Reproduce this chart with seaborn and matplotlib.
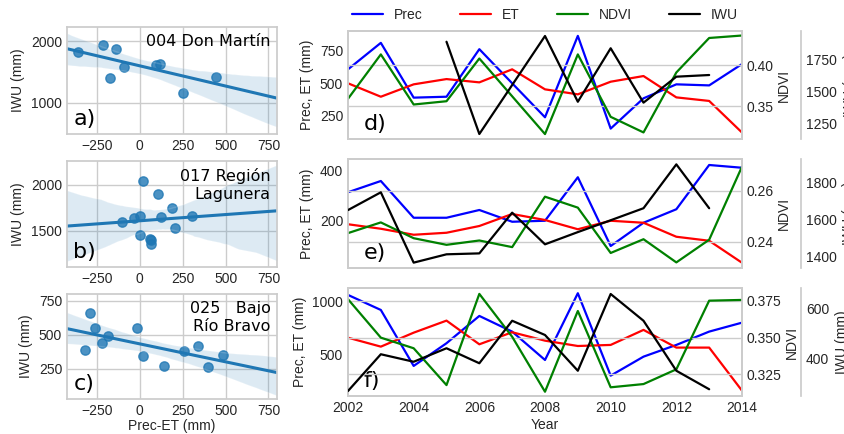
import numpy as np
import matplotlib
matplotlib.use("Agg")
import matplotlib.pyplot as plt
import seaborn as sns

# ---- scatter panels: Prec-ET (mm) vs IWU (mm) per irrigation district ----
a_diff = [-363, -215, -138, -177, -91, 95, 119, 251, 445]
a_iwu = [1826, 1934, 1880, 1405, 1590, 1613, 1629, 1164, 1416]

b_diff = [-104, -37, -2, 21, 2, 60, 64, 66, 107, 124, 188, 204, 305]
b_iwu = [1597, 1640, 1658, 2036, 1461, 1418, 1400, 1364, 1895, 1648, 1748, 1537, 1662]

c_diff = [-293, -322, -260, -219, -188, -17, 18, 138, 260, 338, 396, 484]
c_iwu = [657, 386, 548, 439, 493, 548, 344, 271, 378, 415, 264, 349]

district_names = ["004 Don Martín", "017 Región\nLagunera", "025   Bajo\nRío Bravo"]

# ---- time series panels ----
years = list(range(2002, 2015))

d_prec = [604, 805, 389, 396, 757, 498, 240, 858, 154, 384, 490, 482, 644]
d_et = [498, 396, 490, 530, 505, 604, 452, 414, 510, 553, 391, 364, 124]
d_ndvi = [0.359, 0.413, 0.352, 0.356, 0.408, 0.362, 0.316, 0.413, 0.337, 0.318, 0.391, 0.433, 0.436]
d_iwu_years = list(range(2005, 2014))
d_iwu = [1885, 1164, 1547, 1930, 1416, 1834, 1409, 1612, 1625]

e_prec = [315, 360, 213, 213, 244, 197, 201, 375, 100, 193, 247, 424, 413]
e_et = [187, 169, 145, 153, 180, 228, 204, 167, 201, 193, 137, 121, 33]
e_ndvi = [0.2433, 0.2475, 0.2413, 0.2387, 0.2404, 0.2378, 0.2576, 0.2533, 0.2355, 0.2409, 0.2318, 0.2407, 0.2694]
e_iwu_years = list(range(2002, 2014))
e_iwu = [1652, 1748, 1368, 1413, 1418, 1638, 1467, 1533, 1597, 1662, 1899, 1662]

f_prec = [1063, 922, 397, 610, 866, 719, 453, 1079, 306, 484, 594, 719, 803]
f_et = [662, 578, 709, 822, 600, 713, 634, 584, 594, 735, 569, 569, 165]
f_ndvi = [0.376, 0.3499, 0.3427, 0.3177, 0.3796, 0.3505, 0.3132, 0.368, 0.3162, 0.3184, 0.3284, 0.375, 0.3755]
f_iwu_years = list(range(2002, 2014))
f_iwu = [269, 416, 386, 440, 380, 550, 493, 350, 657, 550, 350, 276]

sns.set_theme(style="whitegrid")
plt.rcParams["font.family"] = "sans-serif"
plt.rcParams["font.sans-serif"] = ["Liberation Sans"]
plt.rcParams["font.size"] = 10
plt.rcParams["axes.labelsize"] = 10
plt.rcParams["xtick.labelsize"] = 10
plt.rcParams["ytick.labelsize"] = 10
plt.rcParams["xtick.major.size"] = 0
plt.rcParams["ytick.major.size"] = 0
plt.rcParams["xtick.major.pad"] = 3.5
plt.rcParams["ytick.major.pad"] = 3.5
plt.rcParams["axes.labelpad"] = 4

W, H = 844, 434
fig = plt.figure(figsize=(W / 100, H / 100), dpi=100)


def box(x0, y0, x1, y1):
    # pixel box -> figure fraction rect
    return [x0 / W, 1 - y1 / H, (x1 - x0) / W, (y1 - y0) / H]


# ---- left column: regressions ----
scatter_data = [(a_diff, a_iwu), (b_diff, b_iwu), (c_diff, c_iwu)]
left_boxes = [box(67, 27, 277, 134), box(67, 161, 277, 267), box(67, 294, 277, 399)]
left_ylims = [(487, 2236), (1112, 2254), (26, 799)]
left_yticks = [[1000, 2000], [1500, 2000], [250, 500, 750]]
letters_left = ["a)", "b)", "c)"]

for i, ((xs, ys), rect) in enumerate(zip(scatter_data, left_boxes)):
    ax = fig.add_axes(rect)
    ax.set_xlim(-425, 800)
    ax.set_ylim(*left_ylims[i])
    sns.regplot(x=xs, y=ys, ax=ax, truncate=False, color="#1f77b4",
                scatter_kws={"s": 45}, line_kws={"lw": 2.2})
    ax.set_xlim(-425, 800)
    ax.set_ylim(*left_ylims[i])
    ax.set_xticks([-250, 0, 250, 500, 750])
    ax.set_yticks(left_yticks[i])
    ax.set_ylabel("IWU (mm)")
    ax.text(0.97, 0.93, district_names[i], transform=ax.transAxes, ha="right",
            va="top", fontsize=11.5, family="DejaVu Sans", linespacing=1.25,
            color="black")
    ax.text(0.03, 0.05, letters_left[i], transform=ax.transAxes, ha="left",
            va="bottom", fontsize=16, family="DejaVu Sans", color="black")
    if i == 2:
        ax.set_xlabel("Prec-ET (mm)", labelpad=1)
    else:
        ax.set_xlabel("")

# ---- right column: time series ----
series = [
    (d_prec, d_et, d_ndvi, d_iwu_years, d_iwu),
    (e_prec, e_et, e_ndvi, e_iwu_years, e_iwu),
    (f_prec, f_et, f_ndvi, f_iwu_years, f_iwu),
]
right_boxes = [box(348, 31, 742, 139), box(348, 159, 742, 268), box(348, 288, 742, 396)]
pe_ylims = [(75, 895), (12, 448), (115, 1128)]
pe_yticks = [[250, 500, 750], [200, 400], [500, 1000]]
ndvi_ylims = [(0.310, 0.4415), (0.2296, 0.2724), (0.3103, 0.3836)]
ndvi_yticks = [[0.35, 0.40], [0.24, 0.26], [0.325, 0.350, 0.375]]
ndvi_fmt = ["%.2f", "%.2f", "%.3f"]
iwu_ylims = [(1125, 1969), (1339, 1928), (249, 681)]
iwu_yticks = [[1250, 1500, 1750], [1400, 1600, 1800], [400, 600]]
letters_right = ["d)", "e)", "f)"]

handles = None
for i, ((prec, et, ndvi, iwu_years, iwu), rect) in enumerate(zip(series, right_boxes)):
    ax = fig.add_axes(rect)
    ax.grid(False)
    sns.lineplot(x=years, y=prec, ax=ax, color="blue", lw=1.6, label="Prec")
    sns.lineplot(x=years, y=et, ax=ax, color="red", lw=1.6, label="ET")
    ax.set_xlim(2002, 2014)
    ax.set_ylim(*pe_ylims[i])
    ax.set_yticks(pe_yticks[i])
    ax.set_ylabel("Prec, ET (mm)")

    ax2 = ax.twinx()
    ax2.grid(True, axis="y")
    ax2.grid(False, axis="x")
    sns.lineplot(x=years, y=ndvi, ax=ax2, color="green", lw=1.6, label="NDVI")
    ax2.set_ylim(*ndvi_ylims[i])
    ax2.set_yticks(ndvi_yticks[i])
    ax2.yaxis.set_major_formatter(matplotlib.ticker.FormatStrFormatter(ndvi_fmt[i]))
    ax2.set_ylabel("NDVI", labelpad=2)

    ax3 = ax.twinx()
    ax3.grid(False)
    sns.lineplot(x=iwu_years, y=iwu, ax=ax3, color="black", lw=1.6, label="IWU")
    ax3.spines["right"].set_position(("axes", 1.15))
    for s in ["left", "top", "bottom"]:
        ax3.spines[s].set_visible(False)
    ax3.set_ylim(*iwu_ylims[i])
    ax3.set_yticks(iwu_yticks[i])
    ax3.set_ylabel("IWU (mm)")

    if i == 0:
        handles = []
        for a in (ax, ax2, ax3):
            h, l = a.get_legend_handles_labels()
            handles += list(zip(h, l))
    for a in (ax, ax2, ax3):
        if a.get_legend() is not None:
            a.get_legend().remove()

    ax.text(0.04, 0.05, letters_right[i], transform=ax.transAxes, ha="left",
            va="bottom", fontsize=16, family="DejaVu Sans", color="black",
            zorder=10)

    ax.set_xticks([2002, 2004, 2006, 2008, 2010, 2012, 2014])
    if i < 2:
        ax.set_xticklabels([])
        ax.set_xlabel("")
    else:
        ax.set_xlabel("Year", labelpad=2)

fig.legend([h for h, _ in handles], [l for _, l in handles], loc="center",
           bbox_to_anchor=(0.646, 0.965), ncol=4, frameon=False,
           handlelength=2.2, columnspacing=2.7, fontsize=10)

fig.savefig("out.png", dpi=100)
